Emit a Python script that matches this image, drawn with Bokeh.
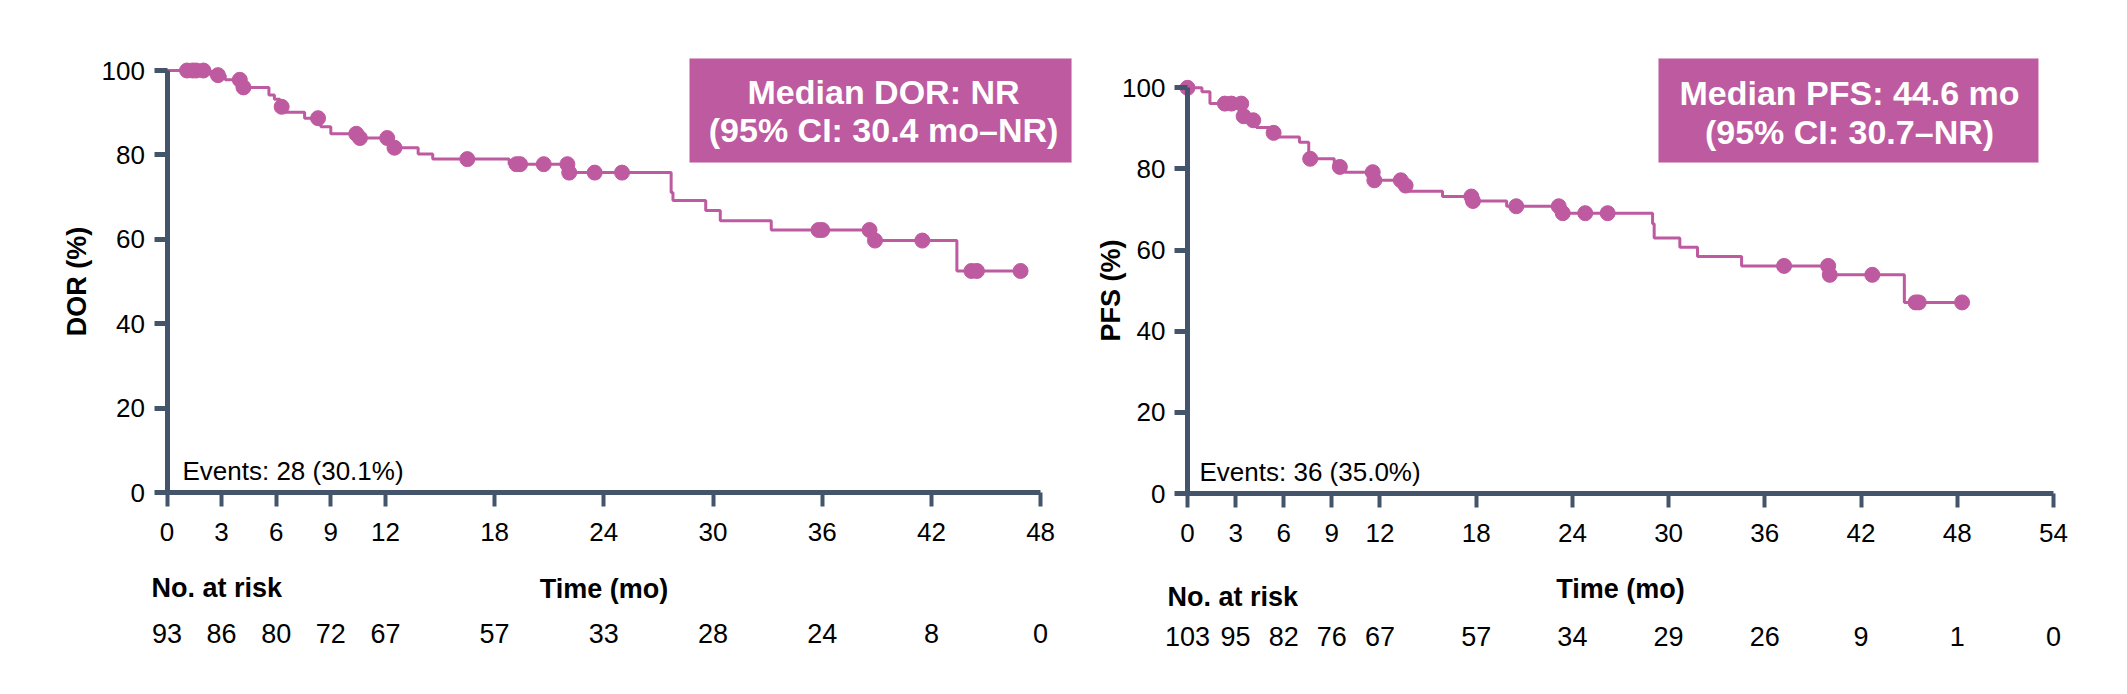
import numpy as np
from bokeh.plotting import figure
from bokeh.models import FixedTicker, Label, LabelSet, ColumnDataSource, BoxAnnotation, Range1d
from bokeh.layouts import row
from bokeh.core.properties import value
from bokeh.embed import file_html
from bokeh.resources import INLINE

FONT = "Liberation Sans"
AX = "#44546A"
MAG = "#BE5AA0"

# ---------------- DOR (left panel) ----------------
dor_event_t = [2.4, 3.2, 4.1, 5.6, 5.9, 6.2, 6.45, 7.56, 8.45, 9.0, 10.5, 12.3, 13.8, 14.6,
               18.8, 22.05, 27.7, 27.8, 29.6, 30.4, 33.2, 38.7, 43.4]
dor_event_s = [98.9, 97.8, 96.0, 94.2, 93.2, 91.4, 90.1, 88.7, 86.7, 85.0, 84.0, 81.7, 80.2, 79.0,
               77.8, 75.8, 71.1, 69.2, 66.8, 64.4, 62.2, 59.7, 52.5]
dor_cens_t = [1.1, 1.4, 1.6, 2.0, 2.8, 4.0, 4.2, 6.3, 8.3, 10.4, 10.6, 12.1, 12.5, 16.5,
              19.2, 19.4, 20.7, 22.0, 22.1, 23.5, 25.0, 35.8, 36.0, 38.6, 38.9, 41.5,
              44.2, 44.5, 46.9]
dor_ticks = [0, 3, 6, 9, 12, 18, 24, 30, 36, 42, 48]
dor_at_risk = ["93", "86", "80", "72", "67", "57", "33", "28", "24", "8", "0"]

# ---------------- PFS (right panel) ----------------
pfs_event_t = [0.9, 1.4, 3.45, 3.9, 4.3, 5.3, 5.45, 6.98, 7.56, 9.15, 9.8, 11.6, 13.45, 13.8,
               15.9, 17.75, 19.9, 23.3, 29.0, 29.1, 30.7, 31.8, 34.55, 40.0, 44.7]
pfs_event_s = [99.0, 96.1, 93.0, 92.0, 90.2, 88.9, 87.9, 86.6, 82.5, 80.5, 79.2, 77.2, 75.9, 74.5,
               73.2, 72.1, 70.8, 69.1, 66.5, 63.0, 60.7, 58.4, 56.1, 53.9, 47.1]
pfs_cens_t = [0.0, 2.33, 2.74, 3.35, 3.5, 4.1, 5.37, 7.65, 9.5, 11.55, 11.65, 13.3, 13.6,
              17.7, 17.8, 20.5, 23.15, 23.4, 24.8, 26.2, 37.2, 39.95, 40.05, 42.7,
              45.4, 45.6, 48.3]
pfs_ticks = [0, 3, 6, 9, 12, 18, 24, 30, 36, 42, 48, 54]
pfs_at_risk = ["103", "95", "82", "76", "67", "57", "34", "29", "26", "9", "1", "0"]

H = 686


def km_path(ev_t, ev_s, end_t):
    x = [0.0] + list(ev_t) + [end_t]
    y = [100.0] + list(ev_s) + [ev_s[-1]]
    return x, y


def cens_y(ev_t, ev_s, c_t):
    idx = np.searchsorted(np.array(ev_t), np.array(c_t), side="right")
    s = np.concatenate([[100.0], np.array(ev_s)])
    return s[idx]


def panel(width, x_origin_px, px_per_month, y0_px, px_per_pct, ticks, ylabel,
          ylab_standoff, xlab_standoff, ev_t, ev_s, c_t, at_risk, risk_y, nar_x, nar_y,
          events_text, ev_x, ev_y, box, box_lines, box_x, box_y):
    xr = Range1d(-x_origin_px / px_per_month, (width - x_origin_px) / px_per_month)
    yr = Range1d((y0_px - H) / px_per_pct, y0_px / px_per_pct)
    p = figure(width=width, height=H, x_range=xr, y_range=yr,
               output_backend="svg", toolbar_location=None,
               min_border_left=0, min_border_right=0, min_border_top=0, min_border_bottom=0)
    p.grid.visible = False
    p.outline_line_color = None
    p.background_fill_color = "white"

    p.xaxis.fixed_location = 0
    p.yaxis.fixed_location = 0
    p.xaxis.ticker = FixedTicker(ticks=ticks)
    p.xaxis.bounds = (0, ticks[-1])
    p.yaxis.ticker = FixedTicker(ticks=[0, 20, 40, 60, 80, 100])
    p.yaxis.bounds = (0, 100)
    p.axis.axis_line_color = AX
    p.axis.axis_line_width = 5
    p.axis.major_tick_line_color = AX
    p.axis.minor_tick_line_color = None
    p.axis.major_tick_in = 0
    p.xaxis.major_tick_out = 14
    p.yaxis.major_tick_out = 13
    p.xaxis.major_tick_line_width = 4
    p.yaxis.major_tick_line_width = 5
    p.axis.major_label_text_font = FONT
    p.axis.major_label_text_font_size = "26px"
    p.axis.major_label_text_color = "black"
    p.xaxis.major_label_standoff = 16
    p.yaxis.major_label_standoff = 9
    p.xaxis.axis_label = "Time (mo)"
    p.yaxis.axis_label = ylabel
    p.axis.axis_label_text_font = FONT
    p.axis.axis_label_text_font_size = "27px"
    p.axis.axis_label_text_font_style = "bold"
    p.axis.axis_label_text_color = "black"
    p.yaxis.axis_label_standoff = ylab_standoff
    p.xaxis.axis_label_standoff = xlab_standoff

    # summary box
    p.add_layout(BoxAnnotation(left=box[0], right=box[1], bottom=box[2], top=box[3],
                               fill_color=MAG, fill_alpha=1.0, line_color="#D9A3CB", line_width=1))
    for txt, yy in zip(box_lines, box_y):
        p.add_layout(Label(x=box_x, y=yy, text=txt, text_align="center", text_baseline="middle",
                           text_font=FONT, text_font_size="34px", text_font_style="bold",
                           text_color="white"))

    # KM curve with censor marks
    lx, ly = km_path(ev_t, ev_s, c_t[-1])
    p.step(lx, ly, mode="after", line_color=MAG, line_width=3)
    p.scatter(c_t, cens_y(ev_t, ev_s, c_t), marker="circle", size=15,
              fill_color=MAG, line_color=MAG)

    # events text
    p.add_layout(Label(x=ev_x, y=ev_y, text=events_text, text_align="left", text_baseline="middle",
                       text_font=FONT, text_font_size="26px", text_color="black"))

    # number at risk table
    p.add_layout(Label(x=nar_x, y=nar_y, text="No. at risk", text_align="left",
                       text_baseline="middle", text_font=FONT, text_font_size="27px",
                       text_font_style="bold", text_color="black"))
    src = ColumnDataSource(dict(x=ticks, y=[risk_y] * len(ticks), text=at_risk))
    p.add_layout(LabelSet(x="x", y="y", text="text", source=src, text_align="center",
                          text_baseline="middle", text_font=value(FONT),
                          text_font_size=value("27px"), text_color="black"))
    return p


p1 = panel(1080, 166.5, 18.2, 492.0, 4.22, dor_ticks, "DOR (%)", 7, 30,
           dor_event_t, dor_event_s, dor_cens_t, dor_at_risk, -33.4, -0.85, -22.7,
           "Events: 28 (30.1%)", 0.85, 5.2,
           (28.71, 49.70, 78.2, 102.84), ["Median DOR: NR", "(95% CI: 30.4 mo\u2013NR)"],
           39.37, [94.8, 85.8])

p2 = panel(1039, 107.0, 16.037, 493.0, 4.057, pfs_ticks, "PFS (%)", -7, 29,
           pfs_event_t, pfs_event_s, pfs_cens_t, pfs_at_risk, -35.25, -1.25, -25.6,
           "Events: 36 (35.0%)", 0.75, 5.4,
           (29.37, 53.06, 81.59, 107.22), ["Median PFS: 44.6 mo", "(95% CI: 30.7\u2013NR)"],
           41.28, [98.84, 89.2])

layout = row(p1, p2)
open("out.html", "w").write(file_html(layout, INLINE))
